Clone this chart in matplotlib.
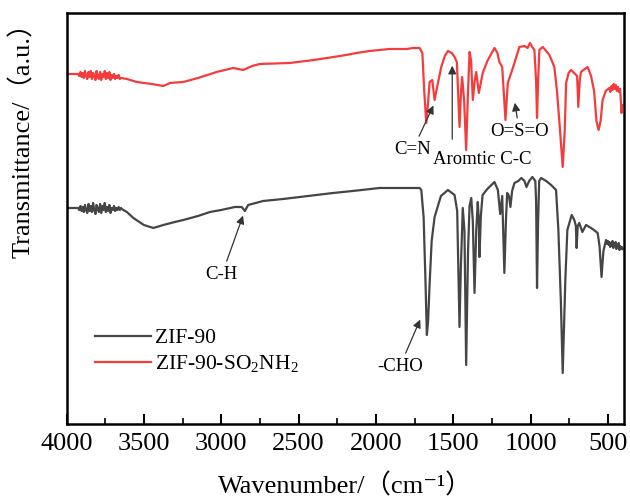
import matplotlib
matplotlib.use("Agg")
import matplotlib.pyplot as plt

plt.rcParams['font.family'] = ['Liberation Serif', 'Noto Sans CJK SC', 'DejaVu Sans']
plt.rcParams['mathtext.fontset'] = 'custom'
plt.rcParams['mathtext.rm'] = 'Liberation Serif'

# ZIF-90 (black) : wavenumber / transmittance (a.u.)
zif90_wn = [4000, 3950, 3925, 3918, 3910, 3903, 3896, 3888, 3881, 3873, 3866, 3858, 3851,
            3843, 3836, 3828, 3821, 3813, 3806, 3798, 3791, 3783, 3776, 3768, 3761, 3753,
            3746, 3738, 3731, 3723, 3716, 3708, 3701, 3693, 3686, 3678, 3671, 3663, 3656,
            3648, 3643, 3610, 3568, 3500, 3439,
            3374, 3300, 3245, 3150, 3073, 3000, 2912, 2868, 2847, 2826, 2729, 2600, 2492,
            2380, 2277, 2150, 1976, 1850, 1718, 1707, 1692, 1680, 1671, 1663, 1653, 1640,
            1621, 1580, 1535, 1492, 1475, 1460, 1452, 1439, 1428, 1417, 1405, 1395, 1384,
            1374, 1363, 1352, 1342, 1335, 1331, 1322, 1311, 1280, 1234, 1212, 1197, 1184,
            1170, 1160, 1152, 1140, 1131, 1120, 1105, 1080, 1060, 1040, 1027, 1010, 989,
            970, 965, 959, 952, 945, 933, 900, 868, 836, 821, 805, 793, 785, 776, 763, 735,
            718, 708, 703, 696, 686, 666, 642, 600, 567, 555, 542, 530, 513, 506, 501, 496,
            491, 486, 481, 476, 471, 466, 461, 456, 451, 446, 441, 436, 431, 426, 421, 416,
            411, 406]
zif90_t = [223, 223, 223, 221, 225, 220, 224, 219, 226, 221, 218, 227, 220,
           225, 219, 228, 221, 217, 226, 222, 219, 227, 218, 225, 221, 228,
           219, 224, 220, 226, 218, 223, 221, 225, 220, 223, 221, 224, 221,
           223, 222, 219, 213, 206, 203,
           206, 209, 211, 215, 219, 221, 224, 224, 220, 226, 230, 232, 234,
           236, 238, 240, 243, 243, 243, 241, 214, 150, 96, 110, 148, 190,
           214, 235, 241, 236, 220, 104, 160, 223, 200, 66, 180, 225, 233,
           210, 138, 200, 229, 210, 174, 215, 236, 242, 249, 241, 217, 235,
           158, 210, 238, 235, 224, 240, 248, 250, 253, 250, 244, 250, 254,
           250, 230, 143, 210, 250, 253, 250, 246, 241, 201, 130, 58, 100, 151, 201, 216,
           211, 205, 183, 205, 208, 199, 206, 202, 198, 185, 154, 180, 191, 187, 190, 186,
           189, 184, 188, 185, 190, 183, 187, 185, 189, 182, 186, 184, 188, 181, 185, 182,
           184, 182]

# ZIF-90-SO2NH2 (red)
zifs_wn = [4000, 3950, 3925, 3918, 3910, 3903, 3896, 3888, 3881, 3873, 3866, 3858, 3851,
           3843, 3836, 3828, 3821, 3813, 3806, 3798, 3791, 3783, 3776, 3768, 3761, 3753,
           3746, 3738, 3731, 3723, 3716, 3708, 3701, 3693, 3686, 3678, 3671, 3663, 3656,
           3648, 3610, 3546, 3450, 3374, 3330,
           3245, 3150, 3030, 2922, 2858, 2800, 2750, 2557, 2400, 2277, 2191, 2126, 2041,
           1911, 1800, 1761, 1718, 1700, 1688, 1675, 1665, 1653, 1636, 1621, 1606, 1578,
           1555, 1535, 1510, 1492, 1477, 1460, 1450, 1443, 1430, 1417, 1405, 1395, 1385,
           1374, 1362, 1352, 1335, 1310, 1280, 1234, 1215, 1202, 1184, 1163, 1148, 1126,
           1105, 1073, 1040, 1020, 1004, 990, 976, 965, 959, 952, 944, 922, 900, 879, 847,
           830, 810, 793, 780, 771, 755, 739, 720, 700, 692, 683, 675, 650, 632, 610, 590,
           575, 561, 548, 535, 515, 492, 485, 478, 471, 464, 457, 450, 443, 436, 429, 422,
           417, 413, 408]
zifs_t = [357, 357, 357, 355, 359, 354, 358, 353, 360, 355, 352, 359, 354,
          360, 352, 358, 355, 351, 360, 354, 352, 359, 351, 357, 354, 360,
          352, 358, 353, 359, 351, 356, 353, 357, 352, 355, 353, 356, 352,
          353, 352, 349, 347, 345, 348,
          349, 353, 359, 363, 361, 365, 367, 368, 371, 374, 376, 378, 380,
          382, 382, 383, 383, 378, 340, 308, 325, 349, 351, 331, 343, 364,
          375, 380, 378, 374, 369, 304, 340, 354, 330, 281, 340, 379, 370,
          331, 350, 359, 338, 358, 370, 383, 378, 369, 364, 311, 348, 358,
          368, 384, 385, 383, 388, 384, 381, 350, 313, 350, 381, 384, 380, 376, 364,
          340, 300, 264, 300, 348, 358, 361, 358, 355, 324, 350, 359, 362, 364, 355, 340,
          310, 301, 310, 331, 340, 343, 339, 345, 341, 347, 342, 346, 340, 344, 339, 342,
          330, 318, 326]

fig = plt.figure(figsize=(6.3, 4.99), dpi=100)
ax = fig.add_axes([0.1056, 0.1493, 0.8841, 0.8247])

ax.plot(zif90_wn, zif90_t, color='#454545', lw=1.6, label='ZIF-90')
ax.plot(zifs_wn, zifs_t, color='#f53c3c', lw=1.6, label=r'ZIF-90-SO$_2$NH$_2$')

ax.set_xlim(4000, 400)
ax.set_ylim(6.5, 418)
ax.set_xticks([4000, 3500, 3000, 2500, 2000, 1500, 1000, 500])
ax.set_xticks(range(3750, 400, -500), minor=True)
ax.set_yticks([])
ax.tick_params(axis='x', which='major', direction='in', length=7, width=1.5,
               labelsize=19, pad=6)
ax.tick_params(axis='x', which='minor', direction='in', length=4, width=1.2)
for s in ax.spines.values():
    s.set_linewidth(1.8)

ax.set_xlabel('Wavenumber/（cm⁻¹）', fontsize=19, labelpad=13)
fig.text(22.5 / 630, 1 - 134 / 499, 'Transmittance/（a.u.）', rotation=90,
         ha='center', va='center', fontsize=19)

arrow = dict(arrowstyle='-|>', color='#333333', lw=0.9, mutation_scale=12)
ax.annotate('C-H', xy=(2853, 218), xytext=(2997, 156), fontsize=13.5,
            ha='center', va='center', arrowprops=arrow)
ax.annotate('-CHO', xy=(1707, 114), xytext=(1847, 64), fontsize=13.5,
            ha='center', va='center', arrowprops=arrow)
ax.annotate('C=N', xy=(1621, 328), xytext=(1763, 281), fontsize=13.5,
            ha='center', va='center', arrowprops=arrow)
ax.annotate('', xy=(1507, 368), xytext=(1507, 289), arrowprops=arrow)
ax.text(1311, 271, 'Aromtic C-C', fontsize=13.5, ha='center', va='center')
ax.annotate('O=S=O', xy=(1105, 331), xytext=(1073, 299), fontsize=13.5,
            ha='center', va='center', arrowprops=arrow)

ax.legend(loc='upper left', bbox_to_anchor=(0.035, 0.255), frameon=False,
          fontsize=15.5, handlelength=2.6, handletextpad=0.2, labelspacing=0.25,
          borderaxespad=0)

fig.savefig('out.png', dpi=100)
